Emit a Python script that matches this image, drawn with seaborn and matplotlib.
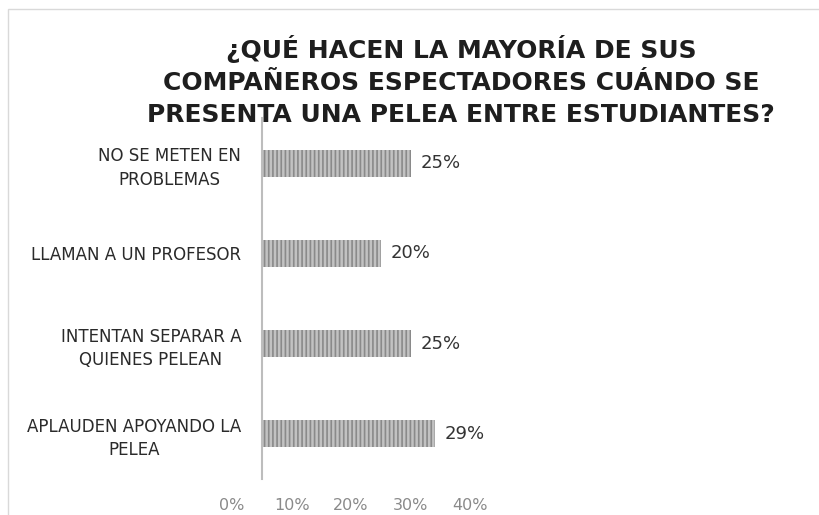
import numpy as np
import pandas as pd
import matplotlib
matplotlib.use("Agg")
import matplotlib.pyplot as plt
import matplotlib.transforms as mtransforms
from matplotlib.patches import Rectangle
import seaborn as sns

categorias = ["NO SE METEN EN\nPROBLEMAS", "LLAMAN A UN PROFESOR",
              "INTENTAN SEPARAR A\nQUIENES PELEAN", "APLAUDEN APOYANDO LA\nPELEA"]
porcentajes = [25, 20, 25, 29]
etiquetas = ["25%", "20%", "25%", "29%"]
ticks_x = [0, 10, 20, 30, 40]
ticks_txt = ["0%", "10%", "20%", "30%", "40%"]
titulo = "¿QUÉ HACEN LA MAYORÍA DE SUS\nCOMPAÑEROS ESPECTADORES CUÁNDO SE\nPRESENTA UNA PELEA ENTRE ESTUDIANTES?"

df = pd.DataFrame({"cat": categorias, "val": porcentajes})

sns.set_style("white")
plt.rcParams['font.family'] = ['DejaVu Sans']
plt.rcParams['hatch.linewidth'] = 1.2

fig = plt.figure(figsize=(8.19, 5.15), dpi=100)
ax = fig.add_axes([0.32, 0.07, 0.2906, 0.701])

sns.barplot(data=df, y="cat", x="val", orient="h", color="#c2c2c2",
            width=0.3, ax=ax)
for p in ax.patches:
    p.set_hatch("||||")
    p.set_edgecolor("#8a8a8a")
    p.set_linewidth(0)

# etiquetas de valor
for i, (v, t) in enumerate(zip(porcentajes, etiquetas)):
    ax.text(v + 1.6, i, t, va="center", ha="left", fontsize=13,
            color="#333333", clip_on=False)

ax.set_xlim(0, 40)
ax.set_xticks(ticks_x)
ax.set_xticklabels(ticks_txt, fontsize=11.5, color="#8a8a8a")
ax.set_xlabel("")
ax.set_ylabel("")
ax.tick_params(axis="both", length=0)
ax.tick_params(axis="y", pad=15)
for lbl in ax.get_yticklabels():
    lbl.set_fontsize(12)
    lbl.set_color("#2a2a2a")
    lbl.set_multialignment("center")
    lbl.set_linespacing(1.4)
shift = mtransforms.ScaledTranslation(-0.30, -0.14, fig.dpi_scale_trans)
for lbl in ax.get_xticklabels():
    lbl.set_transform(lbl.get_transform() + shift)

for s in ["top", "right", "bottom"]:
    ax.spines[s].set_visible(False)
ax.spines["left"].set_color("#bdbdbd")
ax.spines["left"].set_linewidth(1.5)

fig.text(0.563, 1 - 81 / 515, titulo, ha="center", va="center", fontsize=18,
         fontweight="bold", color="#1e1e1e", linespacing=1.4)

fig.patches.append(Rectangle((8 / 819, -0.1), 1.2, 1 - 9 / 515 + 0.1,
                             transform=fig.transFigure, fill=False,
                             edgecolor="#d9d9d9", linewidth=1))

plt.savefig("out.png", dpi=100)
